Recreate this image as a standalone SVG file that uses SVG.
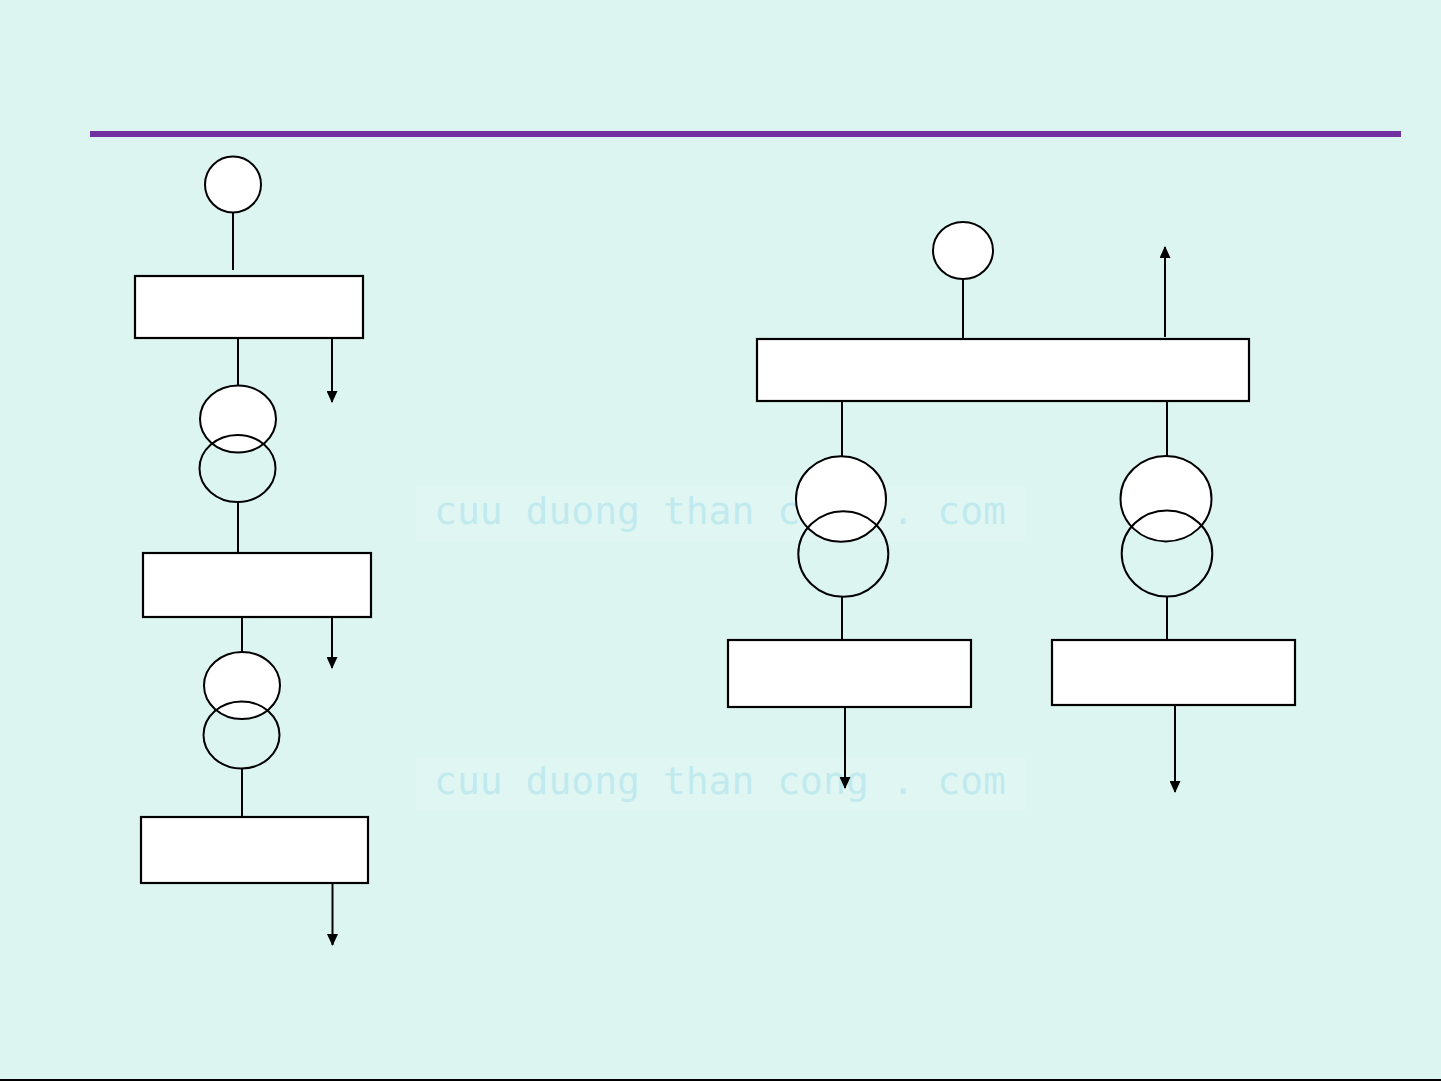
<svg xmlns="http://www.w3.org/2000/svg" width="1441" height="1081" viewBox="0 0 1441 1081">
<defs>
<style>
.bg{fill:#dcf5f1}
.box{fill:#ffffff;stroke:#000000;stroke-width:2.2}
.ct{fill:#ffffff;stroke:#000000;stroke-width:2}
.ln{stroke:#000000;stroke-width:2;fill:none}
.ar{stroke:#000000;stroke-width:2;fill:none;marker-end:url(#ah)}
.wmbox{fill:#e0f6f3}
.wm{font-family:"DejaVu Sans Mono","Liberation Mono",monospace;font-size:38px;fill:#c0eaee}
</style>
<marker id="ah" viewBox="0 0 12 11" markerWidth="12" markerHeight="11" refX="11" refY="5.5" markerUnits="userSpaceOnUse" orient="auto">
<path d="M0,0 L12,5.5 L0,11 Z" fill="#000000"/>
</marker>
</defs>
<rect class="bg" x="0" y="0" width="1441" height="1081"/>
<rect x="90" y="131" width="1311" height="6" fill="#7030a0"/>
<rect x="0" y="1079" width="1441" height="2" fill="#000000"/>

<g id="watermarks">
<rect class="wmbox" x="416" y="487" width="609" height="54"/>
<text class="wm" x="434" y="524">cuu duong than cong . com</text>
<rect class="wmbox" x="416" y="757" width="609" height="54"/>
<text class="wm" x="434" y="794">cuu duong than cong . com</text>
</g>

<g id="connectors">
<line class="ln" x1="233" y1="212" x2="233" y2="270"/>
<line class="ln" x1="238" y1="338" x2="238" y2="386"/>
<line class="ar" x1="332" y1="338" x2="332" y2="402"/>
<line class="ln" x1="238" y1="502" x2="238" y2="553"/>
<line class="ln" x1="242" y1="617" x2="242" y2="652"/>
<line class="ar" x1="332" y1="617" x2="332" y2="668"/>
<line class="ln" x1="242" y1="769" x2="242" y2="818"/>
<line class="ar" x1="332.5" y1="883" x2="332.5" y2="945"/>
<line class="ln" x1="963" y1="279" x2="963" y2="339"/>
<line class="ar" x1="1165" y1="337" x2="1165" y2="247"/>
<line class="ln" x1="842" y1="401" x2="842" y2="456"/>
<line class="ln" x1="842" y1="597" x2="842" y2="640"/>
<line class="ar" x1="845" y1="707" x2="845" y2="788"/>
<line class="ln" x1="1167" y1="401" x2="1167" y2="456"/>
<line class="ln" x1="1167" y1="597" x2="1167" y2="640"/>
<line class="ar" x1="1175" y1="705" x2="1175" y2="792"/>
</g>

<g id="src-left"><circle class="ct" cx="233" cy="184.5" r="28"/></g>
<g id="bus-left-1"><rect class="box" x="135" y="276" width="228" height="62"/></g>
<g id="tr-left-1">
<ellipse class="ct" cx="238" cy="419" rx="38" ry="33.5"/>
<ellipse class="ct" cx="237.5" cy="468.5" rx="38" ry="33.5" fill-opacity="0"/>
</g>
<g id="bus-left-2"><rect class="box" x="143" y="553" width="228" height="64"/></g>
<g id="tr-left-2">
<ellipse class="ct" cx="242" cy="685.5" rx="38" ry="33.5"/>
<ellipse class="ct" cx="241.5" cy="735" rx="38" ry="33.5" fill-opacity="0"/>
</g>
<g id="bus-left-3"><rect class="box" x="141" y="817" width="227" height="66"/></g>

<g id="src-right"><ellipse class="ct" cx="963" cy="250.5" rx="30" ry="28.5"/></g>
<g id="bus-right-main"><rect class="box" x="757" y="339" width="492" height="62"/></g>
<g id="tr-right-1">
<ellipse class="ct" cx="841" cy="499" rx="45" ry="42.8"/>
<ellipse class="ct" cx="843.3" cy="554" rx="45" ry="42.8" fill-opacity="0"/>
</g>
<g id="bus-right-1"><rect class="box" x="728" y="640" width="243" height="67"/></g>
<g id="tr-right-2">
<ellipse class="ct" cx="1166" cy="498.7" rx="45.5" ry="42.7"/>
<ellipse class="ct" cx="1167" cy="553.5" rx="45.3" ry="43" fill-opacity="0"/>
</g>
<g id="bus-right-2"><rect class="box" x="1052" y="640" width="243" height="65"/></g>
</svg>
